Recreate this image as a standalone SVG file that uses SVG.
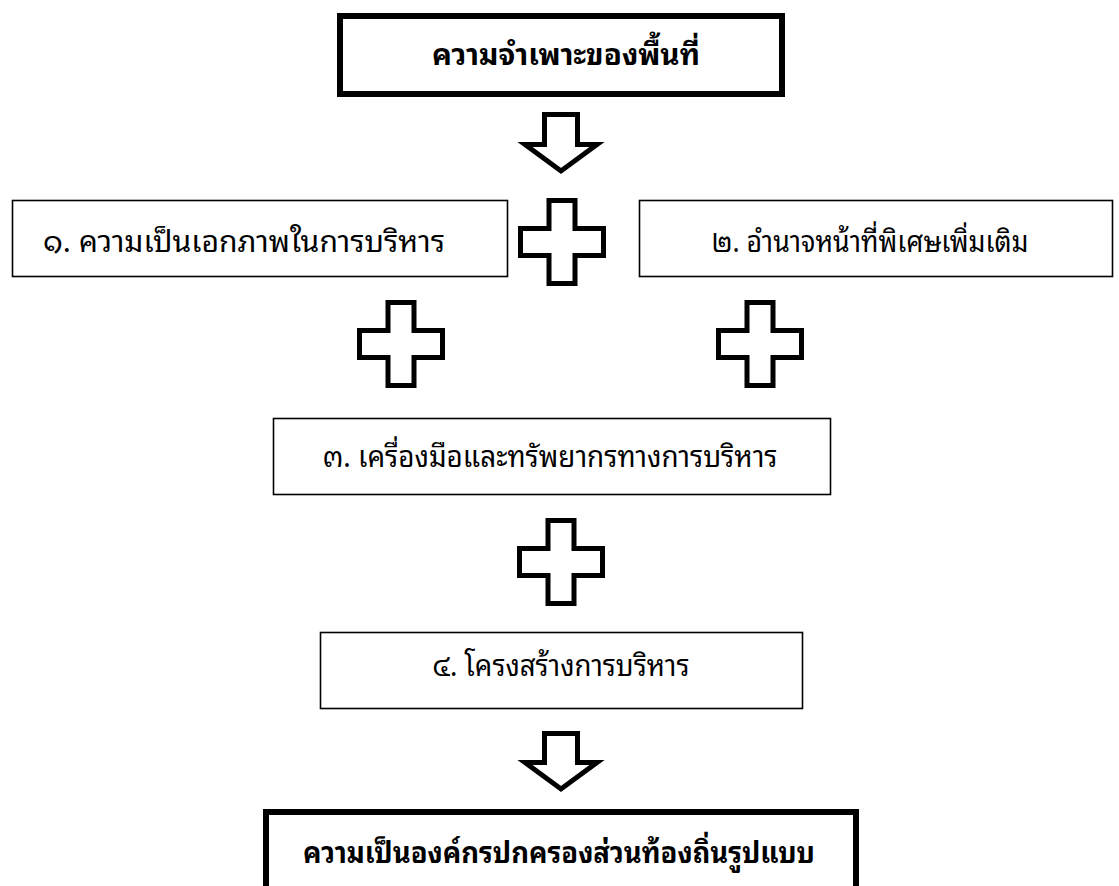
<svg xmlns="http://www.w3.org/2000/svg" width="1119" height="886" viewBox="0 0 1119 886">
<style>
.thin{fill:#fff;stroke:#000;stroke-width:1.6}
.thick{fill:#fff;stroke:#000;stroke-width:6}
.shape{fill:#fff;stroke:#000;stroke-width:5;stroke-linejoin:miter}
text{font-family:"Noto Sans Thai Looped","Noto Looped Thai","Loma","Garuda","Norasi","Noto Sans Thai","Noto Sans",sans-serif;font-size:29px;fill:#000;text-anchor:middle}
.b{font-weight:bold;font-size:29px}
</style>
<defs>
<path id="plus" d="M-13,-41.5 H13 V-13.5 H41.5 V13.5 H13 V41.5 H-13 V13.5 H-41.5 V-13.5 H-13 Z"/>
</defs>
<g id="top">
<rect class="thick" x="340" y="16" width="442" height="78"/>
<text class="b" x="566" y="65" textLength="268" lengthAdjust="spacingAndGlyphs">ความจำเพาะของพื้นที่</text>
</g>
<g id="box1">
<rect class="thin" x="12.5" y="200.5" width="495" height="76"/>
<text x="244" y="252" textLength="402" lengthAdjust="spacingAndGlyphs">๑. ความเป็นเอกภาพในการบริหาร</text>
</g>
<g id="box2">
<rect class="thin" x="639.5" y="200.5" width="473" height="76"/>
<text x="870" y="252" textLength="317" lengthAdjust="spacingAndGlyphs">๒. อำนาจหน้าที่พิเศษเพิ่มเติม</text>
</g>
<g id="box3">
<rect class="thin" x="273.5" y="418.5" width="557" height="76"/>
<text x="550" y="467" textLength="455" lengthAdjust="spacingAndGlyphs">๓. เครื่องมือและทรัพยากรทางการบริหาร</text>
</g>
<g id="box4">
<rect class="thin" x="320.5" y="632.5" width="482" height="76"/>
<text x="561" y="676" textLength="257" lengthAdjust="spacingAndGlyphs">๔. โครงสร้างการบริหาร</text>
</g>
<g id="bottom">
<rect class="thick" x="266" y="812" width="590" height="84"/>
<text class="b" x="559" y="863" textLength="512" lengthAdjust="spacingAndGlyphs">ความเป็นองค์กรปกครองส่วนท้องถิ่นรูปแบบ</text>
</g>
<g id="connectors">
<path class="shape" d="M544.5,114.5 H577.5 V144.5 H597 L561,171 L525,144.5 H544.5 Z"/>
<use href="#plus" class="shape" x="562" y="242"/>
<use href="#plus" class="shape" x="401" y="344"/>
<use href="#plus" class="shape" x="760" y="344"/>
<use href="#plus" class="shape" x="561" y="562"/>
<path class="shape" d="M544.5,733.5 H577.5 V762.5 H597 L561,789 L525,762.5 H544.5 Z"/>
</g>
</svg>
